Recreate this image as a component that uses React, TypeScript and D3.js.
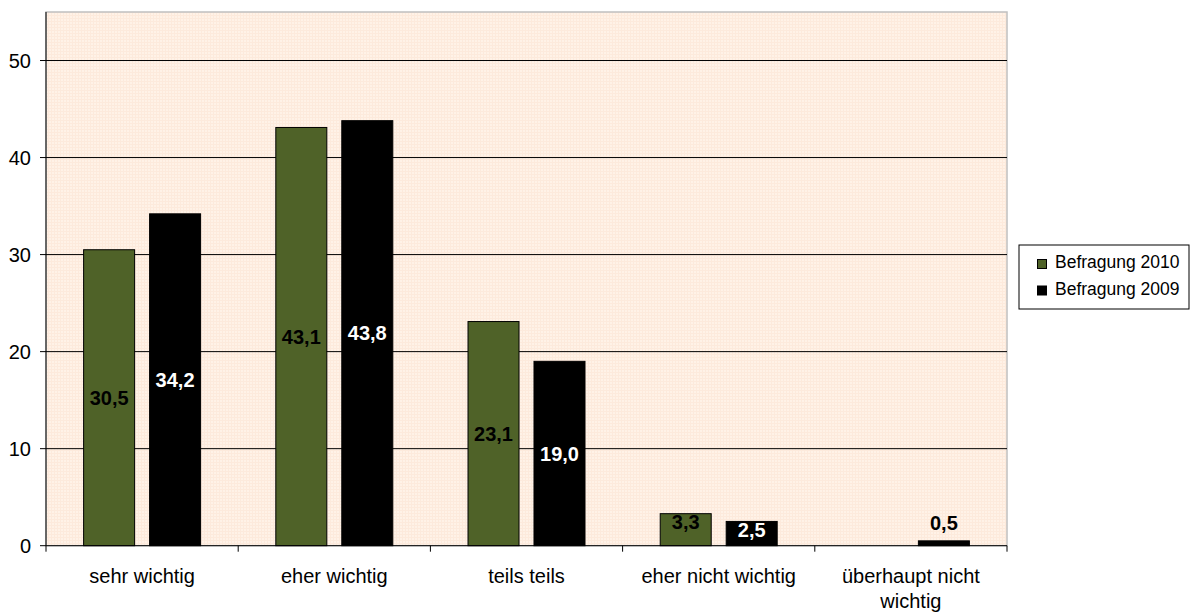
import React, { useMemo } from "react";
import * as d3 from "d3";

const categories = ["sehr wichtig", "eher wichtig", "teils teils", "eher nicht wichtig", "überhaupt nicht wichtig"];
const seriesNames = ["Befragung 2010", "Befragung 2009"];
const values2010 = [30.5, 43.1, 23.1, 3.3, null];
const values2009 = [34.2, 43.8, 19.0, 2.5, 0.5];
const yTicks = [0, 10, 20, 30, 40, 50];
const seriesColors = ["#4F6228", "#000000"];
const labelColors = ["#000000", "#FFFFFF"];

const W = 1192;
const H = 612;
const plot = { left: 46, right: 1007, top: 12, bottom: 545.7 };
const FONT = "Arial, 'Liberation Sans', Helvetica, sans-serif";

function wrap(text: string, maxWidth: number, font: string): string[] {
  const canvas = document.createElement("canvas");
  const ctx = canvas.getContext("2d")!;
  ctx.font = font;
  const words = text.split(" ");
  const lines: string[] = [];
  let cur = "";
  for (const w of words) {
    const test = cur ? cur + " " + w : w;
    if (ctx.measureText(test).width > maxWidth && cur) {
      lines.push(cur);
      cur = w;
    } else cur = test;
  }
  if (cur) lines.push(cur);
  return lines;
}

export default function App() {
  const x0 = d3.scaleBand<string>().domain(categories).range([plot.left, plot.right]).padding(0);
  const x1 = d3
    .scaleBand<string>()
    .domain(seriesNames)
    .range([0, x0.bandwidth()])
    .paddingInner(0.227)
    .paddingOuter(0.57);
  const y = d3.scaleLinear().domain([0, 55]).range([plot.bottom, plot.top]);

  const seriesData = [values2010, values2009];
  const fmt = (v: number) => v.toFixed(1).replace(".", ",");

  const catLines = useMemo(
    () => categories.map((c) => wrap(c, x0.bandwidth() - 12, `20px ${FONT}`)),
    []
  );

  const bounds = [...categories.map((c) => x0(c)!), plot.right];

  return (
    <svg
      width={W}
      height={H}
      style={{ position: "absolute", left: 0, top: 0, background: "#fff" }}
      fontFamily={FONT}
    >
      <defs>
        <pattern id="bgp" width="3" height="3" patternUnits="userSpaceOnUse">
          <rect width="3" height="3" fill="#FFF2E7" />
          <rect width="3" height="1" fill="#FDEADC" />
          <rect width="1" height="3" fill="#FDEADC" />
        </pattern>
      </defs>
      <rect
        x={plot.left}
        y={plot.top}
        width={plot.right - plot.left}
        height={plot.bottom - plot.top}
        fill="url(#bgp)"
        stroke="#C0C0C0"
        strokeWidth={1.5}
      />
      {yTicks.filter((t) => t > 0).map((t) => (
        <line key={t} x1={plot.left} x2={plot.right} y1={y(t)} y2={y(t)} stroke="#000" strokeWidth={1} />
      ))}
      {seriesData.map((vals, si) =>
        vals.map((v, ci) => {
          if (v == null) return null;
          const bx = x0(categories[ci])! + x1(seriesNames[si])!;
          const by = y(v);
          const bh = plot.bottom - by;
          return (
            <rect
              key={`${si}-${ci}`}
              x={bx}
              y={by}
              width={x1.bandwidth()}
              height={bh}
              fill={seriesColors[si]}
              stroke="#000"
              strokeWidth={1}
            />
          );
        })
      )}
      {/* axes */}
      <line x1={plot.left} x2={plot.left} y1={plot.top} y2={plot.bottom} stroke="#000" strokeWidth={1} />
      <line x1={plot.left} x2={plot.right} y1={plot.bottom} y2={plot.bottom} stroke="#000" strokeWidth={1} />
      {yTicks.map((t) => (
        <g key={t}>
          <line x1={plot.left - 6} x2={plot.left} y1={y(t)} y2={y(t)} stroke="#000" />
          <text x={31} y={y(t)} dy="0.35em" textAnchor="end" fontSize={20} fill="#000">
            {t}
          </text>
        </g>
      ))}
      {bounds.map((b, i) => (
        <line key={i} x1={b} x2={b} y1={plot.bottom} y2={plot.bottom + 6} stroke="#000" />
      ))}
      {categories.map((c, i) => (
        <text key={c} textAnchor="middle" fontSize={20} fill="#000">
          {catLines[i].map((l, li) => (
            <tspan key={li} x={x0(c)! + x0.bandwidth() / 2} y={583 + li * 25}>
              {l}
            </tspan>
          ))}
        </text>
      ))}
      {/* data labels */}
      {seriesData.map((vals, si) =>
        vals.map((v, ci) => {
          if (v == null) return null;
          const cx = x0(categories[ci])! + x1(seriesNames[si])! + x1.bandwidth() / 2;
          const top = y(v);
          const h = plot.bottom - top;
          let cy: number;
          let color = labelColors[si];
          if (h < 12) {
            cy = top - 18;
            color = "#000";
          } else if (h < 40) {
            cy = top + 8.7;
          } else {
            cy = top + h / 2;
          }
          return (
            <text
              key={`l${si}-${ci}`}
              x={cx}
              y={cy}
              dy="0.35em"
              textAnchor="middle"
              fontSize={20}
              fontWeight="bold"
              fill={color}
            >
              {fmt(v)}
            </text>
          );
        })
      )}
      {/* legend */}
      <rect x={1019} y={245} width={170} height={64} fill="#fff" stroke="#000" strokeWidth={1} />
      {seriesNames.map((s, i) => (
        <g key={s}>
          <rect x={1037.5} y={259.5 + i * 26.5} width={9} height={9} fill={seriesColors[i]} stroke="#000" strokeWidth={1} />
          <text x={1055} y={268 + i * 26.5} fontSize={17.5} fill="#000">
            {s}
          </text>
        </g>
      ))}
    </svg>
  );
}
